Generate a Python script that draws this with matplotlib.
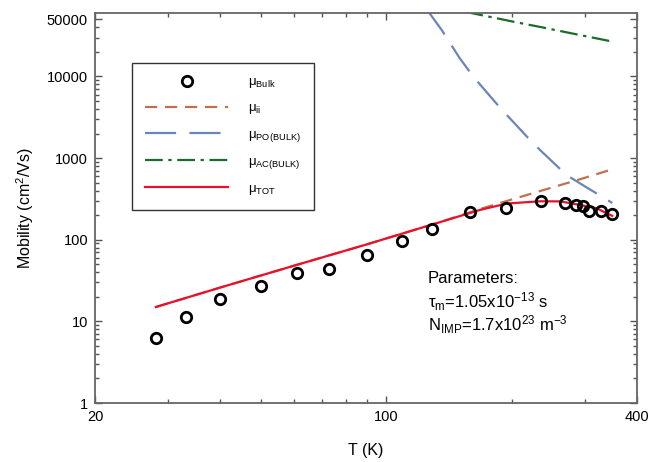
import numpy as np
import matplotlib
matplotlib.use("Agg")
import matplotlib.pyplot as plt
from matplotlib.ticker import FixedLocator, NullFormatter

plt.rcParams["font.family"] = ["Liberation Sans", "DejaVu Sans"]
plt.rcParams["mathtext.fontset"] = "custom"
plt.rcParams["mathtext.rm"] = "Liberation Sans"
plt.rcParams["mathtext.it"] = "Liberation Sans:italic"

# --- data ---
T_bulk = [28, 33, 40, 50, 61, 73, 90, 109, 129, 159, 194, 235, 269, 286, 297, 307, 328, 348]
mu_bulk = [6.3, 11.3, 18.8, 27.2, 39.2, 43.9, 65, 97, 136, 219, 245, 299, 282, 267, 259, 226, 222, 207]

T_ii = [28, 40, 60, 90, 135, 168, 234, 290, 349]
mu_ii = [15, 26, 48, 88, 165, 238, 395, 545, 730]

T_po = [125, 136, 150, 162, 188, 218, 234, 271, 296, 349]
mu_po = [67000, 37000, 16900, 9900, 4100, 1820, 1260, 620, 470, 282]

T_ac = [155, 200, 234, 300, 349]
mu_ac = [62000, 47400, 40500, 31300, 26800]

T_tot = [28, 40, 60, 90, 135, 168, 195, 234, 262, 292, 320, 349]
mu_tot = [15, 26, 48, 88, 165, 232, 278, 296, 295, 267, 243, 196]

x_ticks = [20, 100, 400]
y_ticks = [1, 10, 100, 1000, 10000, 50000]

fig = plt.figure(figsize=(6.55, 4.62), dpi=100)
ax = fig.add_axes([0.145, 0.1277, 0.8275, 0.8442])

ax.plot(T_ii, mu_ii, color="#c0704f", lw=1.6, dashes=(5.5, 3.5), label="μ$_{\\mathrm{ii}}$")
ax.plot(T_po, mu_po, color="#6a86b8", lw=1.6, dashes=(14, 6), label="μ$_{\\mathrm{PO(BULK)}}$")
ax.plot(T_ac, mu_ac, color="#1b6b2a", lw=1.6, dashes=(8, 2.5, 1.5, 2.5), label="μ$_{\\mathrm{AC(BULK)}}$")
ax.plot(T_tot, mu_tot, color="#e8102a", lw=1.6, label="μ$_{\\mathrm{TOT}}$")
ax.plot(T_bulk, mu_bulk, "o", mfc="none", mec="black", ms=7.5, mew=2.0, label="μ$_{\\mathrm{Bulk}}$")

ax.set_xscale("log")
ax.set_yscale("log")
ax.set_xlim(20, 400)
ax.set_ylim(1, 60000)

ax.xaxis.set_major_locator(FixedLocator(x_ticks))
ax.set_xticklabels([str(t) for t in x_ticks])
ax.xaxis.set_minor_locator(FixedLocator([30, 40, 50, 60, 70, 80, 90, 200, 300]))
ax.xaxis.set_minor_formatter(NullFormatter())

ax.yaxis.set_major_locator(FixedLocator(y_ticks))
ax.set_yticklabels([str(t) for t in y_ticks])
ax.yaxis.set_minor_locator(FixedLocator([m * 10 ** d for d in range(0, 5) for m in range(2, 10)
                                         if m * 10 ** d < 60000]))
ax.yaxis.set_minor_formatter(NullFormatter())

ax.tick_params(which="both", direction="in", top=True, right=True, color="#555555",
               labelsize=10.5, pad=5)
ax.tick_params(which="major", length=5, width=1.0)
ax.tick_params(which="minor", length=3, width=1.0)
for s in ax.spines.values():
    s.set_color("#666666")
    s.set_linewidth(1.3)

ax.set_xlabel("T (K)", fontsize=11.5, labelpad=14)
ax.set_ylabel("Mobility (cm$^{\\mathrm{2}}$/Vs)", fontsize=11.5, labelpad=8)

# legend: bulk points first, then the model curves
handles, labels = ax.get_legend_handles_labels()
order = [4, 0, 1, 2, 3]
leg = ax.legend([handles[i] for i in order], [labels[i] for i in order],
                loc="upper left", bbox_to_anchor=(0.068, 0.872), fontsize=9.5,
                handlelength=6.3, handletextpad=1.5, labelspacing=0.9,
                borderpad=1.0, borderaxespad=0, fancybox=False, frameon=True,
                numpoints=1)
leg.get_frame().set_edgecolor("black")
leg.get_frame().set_linewidth(1.0)

ax.text(0.614, 0.3205, "Parameters:", transform=ax.transAxes, fontsize=12, va="center")
ax.text(0.614, 0.259, "τ$_{\\mathrm{m}}$=1.05x10$^{\\mathrm{-13}}$ s", transform=ax.transAxes,
        fontsize=12, va="center")
ax.text(0.614, 0.200, "N$_{\\mathrm{IMP}}$=1.7x10$^{\\mathrm{23}}$ m$^{\\mathrm{-3}}$",
        transform=ax.transAxes, fontsize=12, va="center")

fig.savefig("out.png", dpi=100)
